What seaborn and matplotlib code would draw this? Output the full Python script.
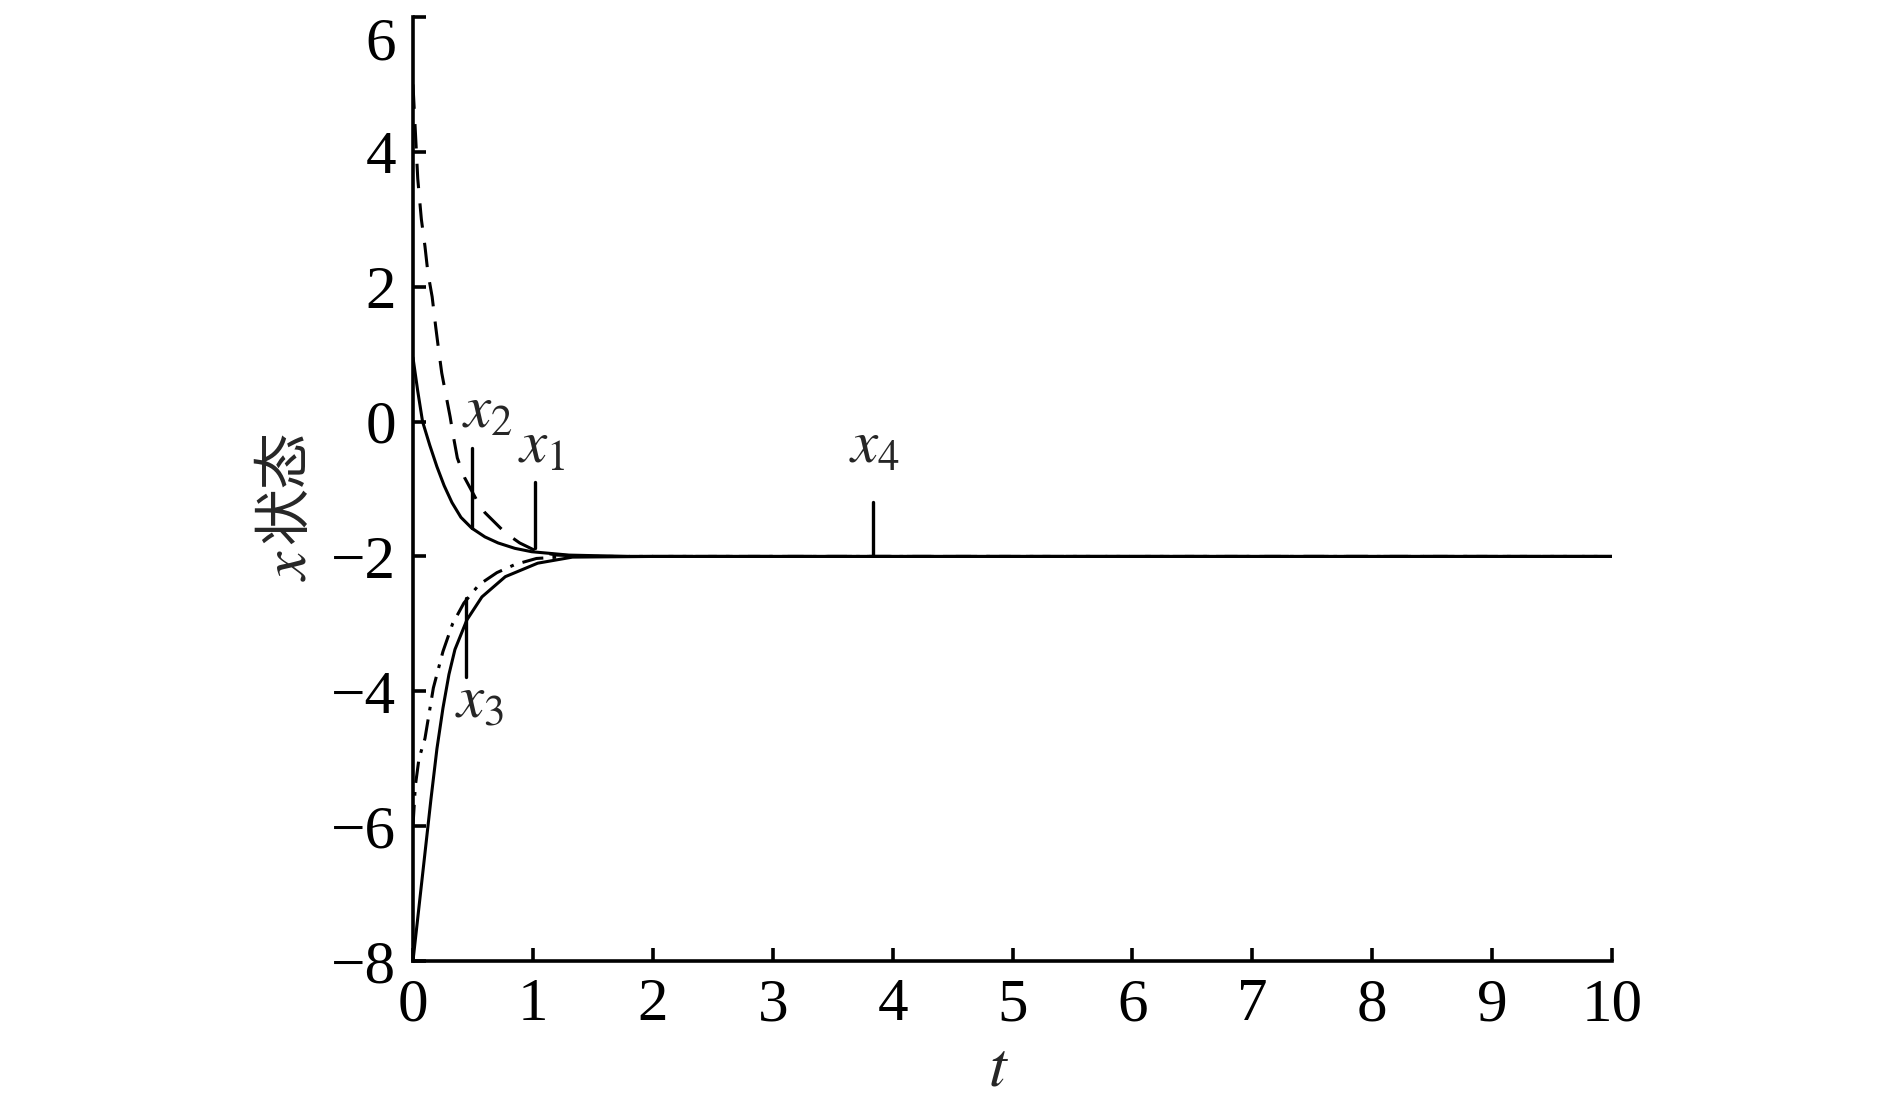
import numpy as np
import pandas as pd
import matplotlib
matplotlib.use("Agg")
import matplotlib.pyplot as plt
import seaborn as sns

# state trajectories
t_x1 = [0, 0.04, 0.08, 0.14, 0.2, 0.26, 0.325, 0.4, 0.49, 0.6, 0.71, 0.85, 0.99, 1.3, 1.8, 10]
y_x1 = [0.95, 0.45, 0.0, -0.35, -0.67, -0.95, -1.2, -1.42, -1.58, -1.71, -1.8, -1.88, -1.93, -1.98, -2.0, -2.0]

t_x2 = [0, 0.02, 0.04, 0.07, 0.1, 0.125, 0.16, 0.19, 0.215, 0.24, 0.27, 0.31, 0.335, 0.37,
        0.43, 0.53, 0.6, 0.77, 0.89, 1.04, 1.2, 1.5, 10]
y_x2 = [5.0, 4.3, 3.6, 3.0, 2.6, 2.2, 1.85, 1.4, 1.05, 0.72, 0.44, 0.07, -0.2, -0.54,
        -0.83, -1.16, -1.35, -1.65, -1.8, -1.93, -1.98, -2.0, -2.0]

t_x3 = [0, 0.02, 0.05, 0.1, 0.17, 0.25, 0.33, 0.425, 0.55, 0.7, 0.85, 1.03, 1.3, 10]
y_x3 = [-6.0, -5.4, -5.0, -4.7, -3.95, -3.41, -3.0, -2.69, -2.42, -2.24, -2.12, -2.03, -2.0, -2.0]

t_x4 = [0, 0.05, 0.1, 0.15, 0.2, 0.25, 0.3, 0.35, 0.45, 0.575, 0.77, 1.04, 1.33, 2.0, 10]
y_x4 = [-8.0, -7.2, -6.4, -5.6, -4.85, -4.25, -3.75, -3.38, -2.94, -2.6, -2.3, -2.1, -2.01, -2.0, -2.0]

# curve labels and their leader lines
lab_text = ['$x_2$', '$x_1$', '$x_4$', '$x_3$']
lab_tx = [0.41, 0.876, 3.64, 0.35]
lab_ty = [-0.09, -0.61, -0.61, -4.39]
lead_x = [0.49, 1.02, 3.84, 0.44]
lead_y0 = [-0.39, -0.89, -1.19, -2.61]
lead_y1 = [-1.58, -1.87, -1.98, -3.79]

x_ticks = list(range(0, 11))
y_ticks = [-8, -6, -4, -2, 0, 2, 4, 6]

sns.set_theme(style='ticks')
plt.rcParams['font.family'] = ['Liberation Serif', 'Noto Sans CJK SC']
plt.rcParams['mathtext.fontset'] = 'stix'
plt.rcParams['axes.unicode_minus'] = True

fig = plt.figure(figsize=(18.9, 11.1), dpi=100)
ax = fig.add_axes([0.2185, 0.1342, 0.6345, 0.8505])

lw = 2.2
sns.lineplot(x=t_x1, y=y_x1, ax=ax, color='black', linewidth=lw, sort=False)
sns.lineplot(x=t_x2, y=y_x2, ax=ax, color='black', linewidth=lw, sort=False)
ax.lines[-1].set_dashes((8, 5))
sns.lineplot(x=t_x3, y=y_x3, ax=ax, color='black', linewidth=lw, sort=False)
ax.lines[-1].set_dashes((7, 3, 1.2, 3))
sns.lineplot(x=t_x4, y=y_x4, ax=ax, color='black', linewidth=lw, sort=False)

for i in range(len(lab_text)):
    ax.plot([lead_x[i], lead_x[i]], [lead_y0[i], lead_y1[i]], color='black', linewidth=2.4)
    ax.text(lab_tx[i], lab_ty[i], lab_text[i], fontsize=44, ha='left', va='baseline')

ax.set_xlim(0, 10)
ax.set_ylim(-8, 6)
ax.set_xticks(x_ticks)
ax.set_yticks(y_ticks)
sns.despine(ax=ax)
for s in ['left', 'bottom']:
    ax.spines[s].set_linewidth(2.6)
    ax.spines[s].set_color('black')
ax.tick_params(direction='in', length=9.5, width=2.6, labelsize=44, pad=12, colors='black')
ax.get_yticklabels()[-1].set_va('top')

ax.set_xlabel('$t$', fontsize=46)
ax.xaxis.set_label_coords(0.488, -0.085)
# y label: italic x followed by the CJK word
ax.set_ylabel('状态', fontsize=41, family=['Noto Sans CJK SC'])
ax.yaxis.set_label_coords(-0.082, 0.502)
ax.text(-0.102, 0.42, '$x$', rotation=90, fontsize=46,
        ha='center', va='center', transform=ax.transAxes)

fig.savefig('out.png', dpi=100, facecolor='white')
